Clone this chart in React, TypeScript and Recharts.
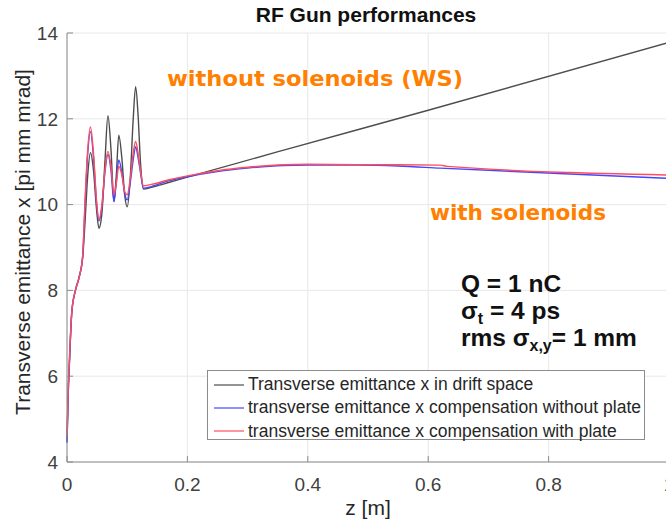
import { LineChart, Line, XAxis, YAxis, CartesianGrid, Label } from "recharts";

// z position along the gun [m]
const Z_M = [
  0, 0.002, 0.004, 0.008, 0.014, 0.02, 0.026, 0.03, 0.034, 0.039,
  0.044, 0.049, 0.053, 0.058, 0.063, 0.068, 0.073, 0.078, 0.082, 0.086,
  0.091, 0.096, 0.1, 0.105, 0.11, 0.114, 0.118, 0.122, 0.127, 0.14,
  0.17, 0.2, 0.25, 0.3, 0.36, 0.4, 0.48, 0.55, 0.6, 0.62,
  0.632, 1.0,
];

// emittance [pi mm mrad], null where the trace has no reading
const DRIFT = [
  4.47, 5.6, 6.3, 7.5, 8.0, 8.3, 8.75, 9.6, 10.6, 11.21,
  10.8, 9.9, 9.45, 9.8, 11.0, 12.07, 11.3, 10.07, 10.7, 11.62,
  11.1, 10.2, 9.95, 10.6, 12.0, 12.75, 12.1, 11.0, 10.36, 10.4,
  10.52, 10.64, null, null, 11.27, null, null, null, 12.2, null,
  null, 13.78,
];

const COMP_NO_PLATE = [
  4.45, 5.6, 6.3, 7.5, 8.0, 8.3, 8.8, 10.0, 11.1, 11.7,
  11.1, 10.05, 9.62, 9.95, 10.75, 11.17, 10.8, 10.07, 10.55, 11.04,
  10.75, 10.25, 10.11, 10.5, 11.05, 11.35, 11.1, 10.75, 10.38, 10.42,
  10.56, 10.65, 10.77, 10.85, 10.91, 10.92, 10.92, 10.9, null, 10.85,
  null, 10.61,
];

const COMP_PLATE = [
  4.6, 5.7, 6.4, 7.5, 8.0, 8.3, 8.8, 10.1, 11.2, 11.81,
  11.2, 10.1, 9.65, 10.0, 10.8, 11.24, 10.9, 10.23, 10.5, 10.89,
  10.7, 10.3, 10.23, 10.6, 11.2, 11.47, 11.2, 10.8, 10.44, 10.47,
  10.58, 10.67, 10.79, 10.87, 10.93, 10.94, 10.93, 10.93, null, 10.92,
  10.89, 10.69,
];

const X_TICKS = [0, 0.2, 0.4, 0.6, 0.8, 1];
const Y_TICKS = [4, 6, 8, 10, 12, 14];

const SERIES = [
  { key: "drift", name: "Transverse emittance x in drift space", color: "#4d4d4d" },
  { key: "noPlate", name: "transverse emittance x compensation without plate", color: "#4646ff" },
  { key: "plate", name: "transverse emittance x compensation with plate", color: "#ff4d5c" },
];

const FONT = '"Liberation Sans", Arial, Helvetica, sans-serif';
const ORANGE = "#ff8000";

const YLabel = () => (
  <text
    x={22}
    y={242}
    transform="rotate(-90 22 242)"
    textAnchor="middle"
    dominantBaseline="central"
    fill="#262626"
    fontSize={21}
    fontFamily={FONT}
  >
    Transverse emittance x [pi mm mrad]
  </text>
);

export default function App() {
  const rows = Z_M.map((z, i) => ({
    z,
    drift: DRIFT[i],
    noPlate: COMP_NO_PLATE[i],
    plate: COMP_PLATE[i],
  }));

  return (
    <div
      style={{
        position: "fixed",
        left: 0,
        top: 0,
        width: 666,
        height: 522,
        overflow: "hidden",
        background: "#fff",
        fontFamily: FONT,
      }}
    >
      <LineChart
        width={680}
        height={522}
        data={rows}
        margin={{ top: 33, right: 11, bottom: 0, left: 0 }}
      >
        <CartesianGrid stroke="#e8e8e8" />
        <XAxis
          dataKey="z"
          type="number"
          domain={[0, 1]}
          ticks={X_TICKS}
          height={60}
          tickSize={-6}
          tickMargin={22}
          stroke="#8c8c8c"
          tick={{ fill: "#404040", fontSize: 19, fontFamily: FONT }}
          tickFormatter={(v) => String(v)}
        >
          <Label
            value="z [m]"
            position="insideBottom"
            offset={7}
            fill="#262626"
            fontSize={21}
            fontFamily={FONT}
          />
        </XAxis>
        <XAxis
          xAxisId="top"
          orientation="top"
          dataKey="z"
          type="number"
          domain={[0, 1]}
          ticks={X_TICKS}
          height={0}
          tickSize={-6}
          tickFormatter={() => ""}
          stroke="#8c8c8c"
        />
        <YAxis
          type="number"
          domain={[4, 14]}
          ticks={Y_TICKS}
          width={67}
          tickSize={-6}
          tickMargin={15}
          stroke="#8c8c8c"
          tick={{ fill: "#404040", fontSize: 19, fontFamily: FONT }}
        >
          <Label content={<YLabel />} />
        </YAxis>
        {SERIES.map((s) => (
          <Line
            key={s.key}
            dataKey={s.key}
            name={s.name}
            type="monotone"
            stroke={s.color}
            strokeWidth={1.4}
            dot={false}
            connectNulls
            isAnimationActive={false}
          />
        ))}
      </LineChart>

      <svg
        width={666}
        height={522}
        style={{ position: "absolute", left: 0, top: 0, pointerEvents: "none" }}
      >
        <text
          x={366}
          y={22}
          textAnchor="middle"
          fontSize={21}
          fontWeight="bold"
          fill="#111"
          fontFamily={FONT}
        >
          RF Gun performances
        </text>
        <text
          x={167}
          y={78}
          dominantBaseline="central"
          fontSize={22}
          fontWeight="bold"
          fill={ORANGE}
          fontFamily='"Comic Sans MS", "DejaVu Sans", sans-serif'
          textLength={296}
          lengthAdjust="spacingAndGlyphs"
        >
          without solenoids (WS)
        </text>
        <text
          x={430}
          y={212}
          dominantBaseline="central"
          fontSize={22}
          fontWeight="bold"
          fill={ORANGE}
          fontFamily='"Comic Sans MS", "DejaVu Sans", sans-serif'
          textLength={176}
          lengthAdjust="spacingAndGlyphs"
        >
          with solenoids
        </text>
        <g fontFamily={FONT} fontWeight="bold" fontSize={24.5} fill="#111">
          <text x={461} y={292}>Q = 1 nC</text>
          <text x={461} y={319}>
            σ<tspan fontSize={16} dy={5}>t</tspan>
            <tspan dy={-5}> = 4 ps</tspan>
          </text>
          <text x={461} y={346}>
            rms σ<tspan fontSize={16} dy={5}>x,y</tspan>
            <tspan dy={-5}>= 1 mm</tspan>
          </text>
        </g>
      </svg>

      <div
        style={{
          position: "absolute",
          left: 207,
          top: 370,
          width: 438,
          height: 70,
          border: "1px solid #8c8c8c",
          background: "#fff",
          boxSizing: "border-box",
          paddingTop: 2,
        }}
      >
        {SERIES.map((s) => (
          <div
            key={s.key}
            style={{
              display: "flex",
              alignItems: "center",
              height: 23.3,
              fontSize: 17.5,
              color: "#262626",
              whiteSpace: "nowrap",
            }}
          >
            <svg width={40} height={10} style={{ flex: "none" }}>
              <line x1={6} x2={36} y1={5} y2={5} stroke={s.color} strokeWidth={1.2} />
            </svg>
            <span>{s.name}</span>
          </div>
        ))}
      </div>
    </div>
  );
}
